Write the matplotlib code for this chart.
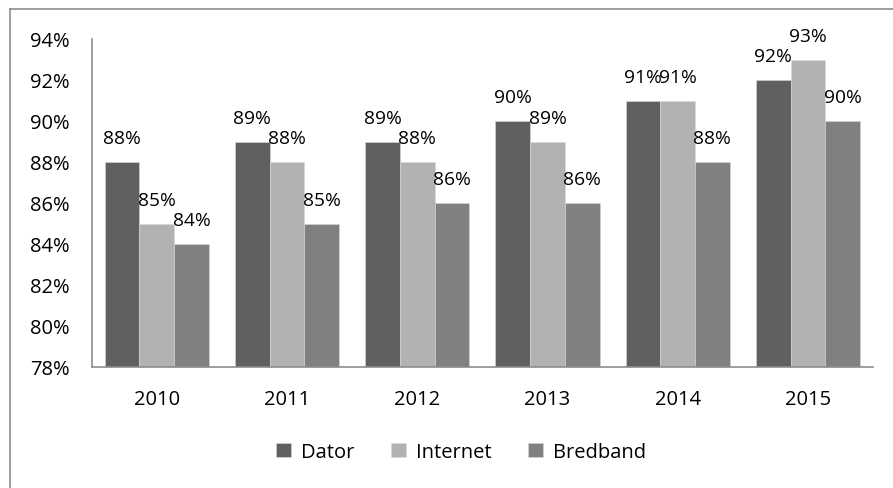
import matplotlib
matplotlib.use("Agg")
import matplotlib.pyplot as plt
from matplotlib.lines import Line2D
import numpy as np

years = ["2010", "2011", "2012", "2013", "2014", "2015"]
dator = [88, 89, 89, 90, 91, 92]
internet = [85, 88, 88, 89, 91, 93]
bredband = [84, 85, 86, 86, 88, 90]
series_names = ["Dator", "Internet", "Bredband"]
colors = ["#606060", "#B2B2B2", "#808080"]
yticks = [78, 80, 82, 84, 86, 88, 90, 92, 94]

plt.rcParams['font.family'] = ['Open Sans', 'DejaVu Sans']
FS = 14.5
LFS = 13.8

fig = plt.figure(figsize=(8.93, 4.89), dpi=100)
ax = fig.add_axes([91.7/893, 1-368/489, (873-91.7)/893, (368-40)/489])

x = np.arange(len(years))
w = 0.8/3
for i, (name, vals) in enumerate(zip(series_names, [dator, internet, bredband])):
    pos = x + (i-1)*w
    ax.bar(pos, np.array(vals) - 78, bottom=78, width=w, color=colors[i],
           label=name, edgecolor='#d8d8d8', linewidth=0.4)
    for p, v in zip(pos, vals):
        ax.annotate(f"{v}%", (p, v), xytext=(0, 13.5), textcoords='offset points',
                    ha='center', va='baseline', fontsize=LFS)

ax.set_xlim(-0.5, len(years)-0.5)
ax.set_ylim(78, 94)
ax.set_yticks(yticks)
ax.set_yticklabels([f"{t}%" for t in yticks], fontsize=FS)
ax.set_xticks(x)
ax.set_xticklabels(years, fontsize=FS)
ax.tick_params(axis='y', length=0, pad=16)
ax.tick_params(axis='x', length=0, pad=16)
for s in ['top', 'right']:
    ax.spines[s].set_visible(False)
for s in ['left', 'bottom']:
    ax.spines[s].set_color('#8c8c8c')
    ax.spines[s].set_linewidth(1.2)

fig.legend(loc='center', bbox_to_anchor=(461/893, 1-453/489), ncol=3, frameon=False,
           fontsize=FS, handlelength=0.75, handleheight=0.75, columnspacing=1.8,
           handletextpad=0.5)

# outer frame (left and top edges)
fig.add_artist(Line2D([10/893, 10/893], [0, 1-10/489], transform=fig.transFigure,
                      color='#8c8c8c', linewidth=1.2))
fig.add_artist(Line2D([10/893, 1], [1-10/489, 1-10/489], transform=fig.transFigure,
                      color='#8c8c8c', linewidth=1.2))

fig.savefig("out.png", dpi=100)
